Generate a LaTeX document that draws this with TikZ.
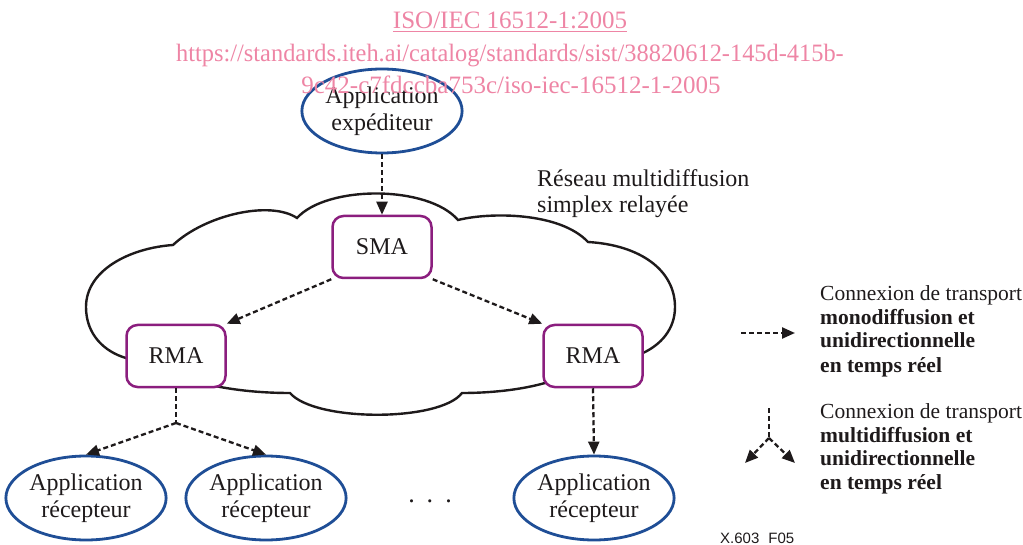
\documentclass[tikz,border=0pt]{standalone}
\usepackage{fontspec}
\setmainfont{Liberation Serif}
\newfontfamily\figsans{Liberation Sans}
\usetikzlibrary{shapes.geometric,arrows.meta}

\definecolor{appblue}{RGB}{31,78,150}
\definecolor{agentpurple}{RGB}{139,30,126}
\definecolor{wmpink}{RGB}{238,133,165}
\definecolor{ink}{RGB}{30,26,27}

\begin{document}
\begin{tikzpicture}[x=1pt,y=-1pt,
  app/.style={ellipse, draw=appblue, line width=2.8pt, fill=white,
    minimum width=154pt, minimum height=84pt, inner sep=0pt, align=center,
    font=\fontsize{24}{27}\selectfont, text=ink},
  agent/.style={rectangle, rounded corners=11pt, draw=agentpurple, line width=2.5pt,
    fill=white, minimum width=99pt, minimum height=62pt,
    font=\fontsize{24}{27}\selectfont, text=ink},
  flow/.style={draw=ink, line width=2.3pt, dash pattern=on 5pt off 3pt,
    -{Triangle[length=13pt,width=11pt]}},
  flowplain/.style={draw=ink, line width=2.3pt, dash pattern=on 5pt off 3pt},
  cloudline/.style={draw=ink, line width=2.4pt},
  label/.style={anchor=base west, inner sep=0pt, text=ink, font=\fontsize{24}{27}\selectfont},
  legend/.style={anchor=base west, inner sep=0pt, text=ink, font=\fontsize{21.5}{24}\selectfont},
  legendbold/.style={legend, font=\fontsize{21.5}{24}\selectfont\bfseries},
  watermark/.style={anchor=base, inner sep=0pt, text=wmpink, font=\fontsize{25}{30}\selectfont},
]
\useasboundingbox (0,0) rectangle (1023,545);

% relayed multicast network (cloud outline)
\draw[cloudline] (126,358) .. controls (105,352) and (86,335) .. (86,307)
  .. controls (86,270) and (130,248) .. (173,245)
  .. controls (205,215) and (270,200) .. (297,218)
  .. controls (327,185) and (428,185) .. (458,220)
  .. controls (490,212) and (560,212) .. (588,242)
  .. controls (640,245) and (675,270) .. (675,307)
  .. controls (675,330) and (660,345) .. (643,353)
  -- (545,383)
  .. controls (520,390) and (490,393) .. (462,393)
  .. controls (440,422) and (315,422) .. (290,393)
  .. controls (260,393) and (235,390) .. (215,386)
  -- cycle;

% applications and agents
\node[app] (src) at (382,111) {Application\\expéditeur};
\node[agent] (sma) at (382,247) {SMA};
\node[agent] (rmaL) at (176,356) {RMA};
\node[agent] (rmaR) at (593,356) {RMA};
\node[app] (rx1) at (86,498) {Application\\récepteur};
\node[app] (rx2) at (266,498) {Application\\récepteur};
\node[app] (rx3) at (594,498) {Application\\récepteur};
\node[anchor=base, inner sep=0pt, text=ink, font=\fontsize{26}{28}\selectfont] (dots)
  at (430,502) {.\hspace{12pt}.\hspace{12pt}.};

% network name
\node[label] (net1) at (537,187) {Réseau multidiffusion};
\node[label] (net2) at (537,213) {simplex relayée};

% transport connections
\draw[flow] (src.south) -- (sma.north);
\draw[flow] (sma.south west) -- (rmaL.north east);
\draw[flow] (sma.south east) -- (rmaR.north west);
\coordinate (split) at (176,423);
\draw[flowplain] (rmaL.south) -- (split);
\draw[flow] (split) -- (rx1.north);
\draw[flow] (split) -- (rx2.north);
\draw[flow] (rmaR.south) -- (rx3.north);

% legend: unicast connection
\coordinate (uniA) at (741,333);
\coordinate (uniB) at (795,333);
\draw[flow] (uniA) -- (uniB);
\node[legend] (uni1) at (820,301) {Connexion de transport};
\node[legendbold] (uni2) at (820,325) {monodiffusion et};
\node[legendbold] (uni3) at (820,348) {unidirectionnelle};
\node[legendbold] (uni4) at (820,372) {en temps réel};

% legend: multicast connection
\coordinate (mulTop) at (769,408);
\coordinate (mulSplit) at (769,438);
\coordinate (mulL) at (745,463);
\coordinate (mulR) at (795,463);
\draw[flowplain] (mulTop) -- (mulSplit);
\draw[flow] (mulSplit) -- (mulL);
\draw[flow] (mulSplit) -- (mulR);
\node[legend] (mul1) at (820,418) {Connexion de transport};
\node[legendbold] (mul2) at (820,442) {multidiffusion et};
\node[legendbold] (mul3) at (820,465) {unidirectionnelle};
\node[legendbold] (mul4) at (820,489) {en temps réel};

% figure reference
\node[anchor=base west, inner sep=0pt, text=ink, font=\figsans\fontsize{15}{17}\selectfont] (figref)
  at (720,543) {X.603\hspace{9pt}F05};

% catalogue stamp
\node[watermark] (wm1) at (510,29) {\underline{ISO/IEC 16512-1:2005}};
\node[watermark] (wm2) at (510,62) {\scalebox{0.975}[1]{https://standards.iteh.ai/catalog/standards/sist/38820612-145d-415b-}};
\node[watermark] (wm3) at (511,94) {9c42-c7fdccba753c/iso-iec-16512-1-2005};
\end{tikzpicture}
\end{document}
